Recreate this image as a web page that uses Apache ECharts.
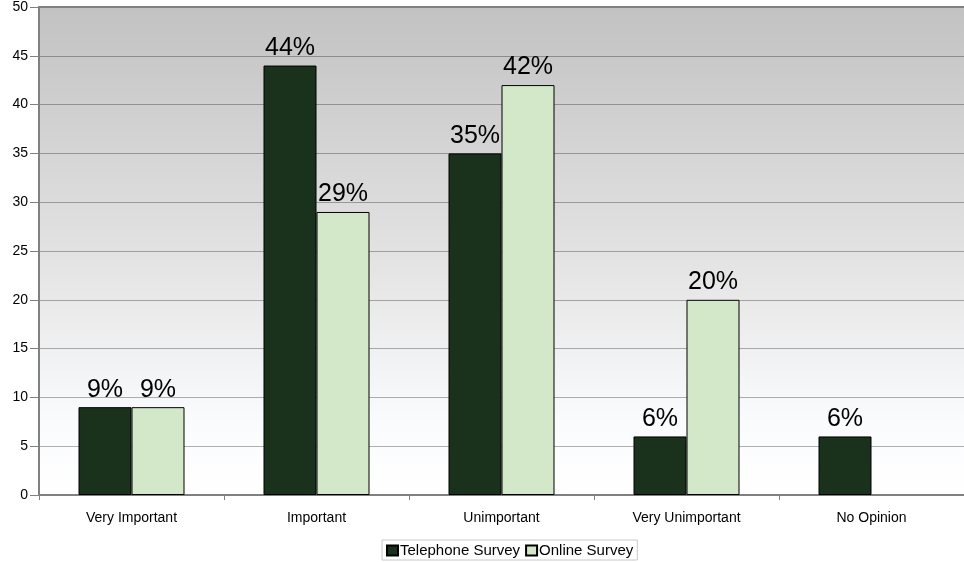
<!DOCTYPE html>
<html>
<head>
<meta charset="utf-8">
<script src="https://cdn.jsdelivr.net/npm/echarts@6/dist/echarts.min.js"></script>
<style>
  html, body { margin: 0; padding: 0; background: #fff; }
  #chart { width: 964px; height: 562px; }
</style>
</head>
<body>
<div id="chart"></div>
<script>
var categories = ['Very Important', 'Important', 'Unimportant', 'Very Unimportant', 'No Opinion'];
var telephone = [9, 44, 35, 6, 6];
var online = [9, 29, 42, 20, null];
var yTicks = [0, 5, 10, 15, 20, 25, 30, 35, 40, 45, 50];

var chart = echarts.init(document.getElementById('chart'));

var labelStyle = {
  show: true,
  position: 'top',
  distance: 5,
  formatter: '{c}%',
  fontFamily: 'Liberation Sans, Arial',
  fontSize: 25,
  color: '#000'
};

chart.setOption({
  animation: false,
  textStyle: { fontFamily: 'Liberation Sans, Arial' },
  grid: {
    left: 39, right: 0, top: 7, bottom: 67,
    show: true,
    borderWidth: 0,
    backgroundColor: new echarts.graphic.LinearGradient(0, 0, 0, 1, [
      { offset: 0, color: '#c2c2c2' },
      { offset: 0.5, color: '#e2e2e2' },
      { offset: 0.85, color: '#fafbfd' },
      { offset: 1, color: '#ffffff' }
    ])
  },
  legend: {
    top: 540,
    left: 382,
    itemWidth: 11,
    itemHeight: 10,
    itemGap: 5,
    padding: [3, 4, 2, 4],
    borderColor: '#c8c8c8',
    borderWidth: 1,
    textStyle: { fontSize: 15, color: '#000', padding: [0, 0, 0, -3] },
    data: [
      { name: 'Telephone Survey', icon: 'rect' },
      { name: 'Online Survey', icon: 'rect' }
    ]
  },
  xAxis: [{
    type: 'category',
    data: categories,
    axisLine: { lineStyle: { color: '#808080', width: 2 } },
    axisTick: { show: true, length: 5, lineStyle: { color: '#808080' } },
    axisLabel: { fontSize: 14, color: '#000', margin: 16 }
  }, {
    type: 'category',
    position: 'top',
    data: categories,
    axisLine: { show: true, lineStyle: { color: '#808080', width: 2 } },
    axisTick: { show: false },
    axisLabel: { show: false }
  }],
  yAxis: {
    type: 'value',
    min: yTicks[0],
    max: yTicks[yTicks.length - 1],
    interval: yTicks[1] - yTicks[0],
    axisLine: { show: true, lineStyle: { color: '#808080', width: 2 } },
    axisTick: { show: true, length: 9, lineStyle: { color: '#808080' } },
    axisLabel: { fontSize: 14, color: '#000', margin: 11 },
    splitLine: { show: true, lineStyle: { color: 'rgba(0,0,0,0.3)', width: 1 } }
  },
  series: [{
    name: 'Telephone Survey',
    type: 'bar',
    data: telephone,
    barWidth: 53,
    barGap: '0%',
    itemStyle: { color: '#1a321c', borderColor: '#000', borderWidth: 1 },
    label: labelStyle
  }, {
    name: 'Online Survey',
    type: 'bar',
    data: online,
    barWidth: 53,
    barGap: '0%',
    itemStyle: { color: '#d2e8c8', borderColor: '#000', borderWidth: 1 },
    label: labelStyle
  }]
});
</script>
</body>
</html>
